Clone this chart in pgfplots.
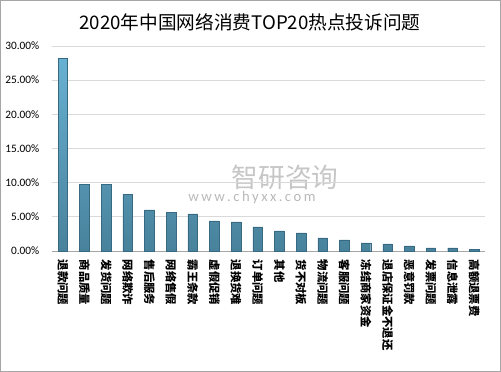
\documentclass[border=0pt]{standalone}
\usepackage{fontspec}
\setmainfont{Carlito}
\newfontfamily\cjk{Noto Sans CJK SC}
\usepackage{pgfplots}
\pgfplotsset{compat=1.18}
\definecolor{bartop}{RGB}{104,176,210}
\definecolor{barbot}{RGB}{72,130,155}
\definecolor{baredge}{RGB}{55,105,130}
\definecolor{gridc}{RGB}{217,217,217}
\begin{document}
\begin{tikzpicture}[x=0.75pt,y=0.75pt]
\draw[gray!70, line width=0.75pt] (0.5,0.5) rectangle (500.5,371.5);
\node[font=\cjk\fontsize{14}{15}\selectfont] at (250,350) {2020年中国网络消费TOP20热点投诉问题};
\node[text=gray!45, font=\cjk\fontsize{20}{22}\selectfont] at (285,195) {智研咨询};
\node[text=gray!55, font=\fontsize{11}{12}\selectfont] at (252,174) {w\,w\,w\,.\,c\,h\,y\,x\,x\,.\,c\,o\,m};
\begin{axis}[
  at={(52pt*0.75,121pt*0.75)}, anchor=south west,
  scale only axis,
  width=433*0.75pt, height=205*0.75pt,
  ymin=0, ymax=0.30,
  xmin=-0.5, xmax=19.5,
  ytick={0,0.05,0.10,0.15,0.20,0.25,0.30},
  yticklabels={0.00\%,5.00\%,10.00\%,15.00\%,20.00\%,25.00\%,30.00\%},
  /pgf/number format/assume math mode=true,
  yticklabel style={font=\fontsize{8.5}{9}\selectfont, anchor=east, xshift=-6pt},
  ymajorgrids, grid style={gridc, line width=0.6pt},
  axis y line*=left, y axis line style={draw=none},
  axis x line*=bottom, x axis line style={draw=gray!70, line width=0.6pt},
  major tick length=0pt,
  xtick=data,
  xticklabels={退款问题,商品质量,发货问题,网络欺诈,售后服务,网络售假,霸王条款,虚假促销,退换货难,订单问题,其他,货不对板,物流问题,客服问题,冻结商家资金,退店保证金不退还,恶意罚款,发票问题,信息泄露,高额退票费},
  xticklabel style={font=\cjk\bfseries\fontsize{8.5}{9}\selectfont, rotate=-90, anchor=west, xshift=3pt},
  ybar, bar width=7.2pt,
]
\addplot[draw=baredge, line width=0.3pt, top color=bartop, bottom color=barbot] coordinates {
(0,0.282) (1,0.098) (2,0.098) (3,0.0824) (4,0.0603) (5,0.0569) (6,0.0544) (7,0.0441) (8,0.0426) (9,0.0353)
(10,0.0294) (11,0.0265) (12,0.0191) (13,0.0162) (14,0.0118) (15,0.0103) (16,0.0074) (17,0.0044) (18,0.0044) (19,0.0029)};
\end{axis}
\end{tikzpicture}
\end{document}
